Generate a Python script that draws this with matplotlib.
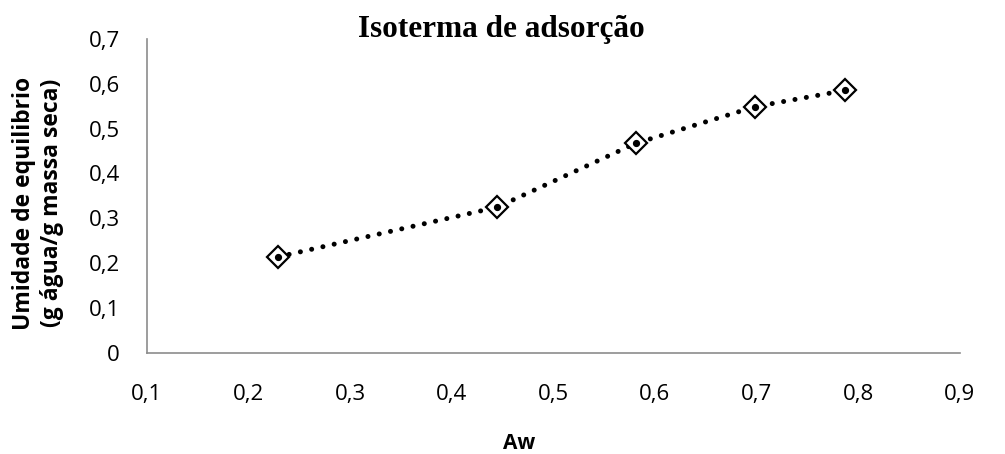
import matplotlib
matplotlib.use("Agg")
import matplotlib.pyplot as plt
from matplotlib.ticker import FixedLocator, FuncFormatter

aw = [0.229, 0.445, 0.581, 0.699, 0.787]
umidade = [0.214, 0.325, 0.467, 0.549, 0.585]
xticks = [0.1, 0.2, 0.3, 0.4, 0.5, 0.6, 0.7, 0.8, 0.9]
yticks = [0, 0.1, 0.2, 0.3, 0.4, 0.5, 0.6, 0.7]

fig = plt.figure(figsize=(10.05, 4.54), dpi=100)
ax = fig.add_axes([0.146, 0.2225, 0.809, 0.692])
ax.plot(aw, umidade, linestyle=(0, (0.01, 2.3)), color="black", linewidth=3.6,
        dash_capstyle="round", zorder=2)
ax.plot(aw, umidade, linestyle="none", marker="D", markersize=11,
        markerfacecolor="white", markeredgecolor="black", markeredgewidth=1.6, zorder=3)
ax.plot(aw, umidade, linestyle="none", marker="o", markersize=4.2,
        color="black", zorder=4)

ax.set_xlim(0.1, 0.9)
ax.set_ylim(0, 0.7)
ax.xaxis.set_major_locator(FixedLocator(xticks))
ax.yaxis.set_major_locator(FixedLocator(yticks))
fmt = FuncFormatter(lambda v, p: ("%g" % round(v, 2)).replace(".", ","))
ax.xaxis.set_major_formatter(fmt)
ax.yaxis.set_major_formatter(fmt)
ax.tick_params(length=0, labelsize=16, colors="black")
ax.tick_params(axis="x", pad=22.5)
ax.tick_params(axis="y", pad=19.5)
for lbl in ax.get_xticklabels() + ax.get_yticklabels():
    lbl.set_family("Open Sans")
for s in ["top", "right"]:
    ax.spines[s].set_visible(False)
for s in ["left", "bottom"]:
    ax.spines[s].set_color("#8c8c8c")
    ax.spines[s].set_linewidth(1.2)

fig.text(0.4985, 0.936, "Isoterma de adsorção", ha="center", va="center",
         fontsize=22.5, fontweight="bold", family="Liberation Serif")
fig.text(0.517, 0.024, "Aw", ha="center", va="center", fontsize=15,
         fontweight="bold", family="Open Sans")
fig.text(0.038, 0.553, "Umidade de equilibrio\n(g água/g massa seca)", ha="center",
         va="center", rotation=90, fontsize=16.5, fontweight="bold",
         family="Open Sans", linespacing=1.25)

fig.savefig("out.png", dpi=100)
